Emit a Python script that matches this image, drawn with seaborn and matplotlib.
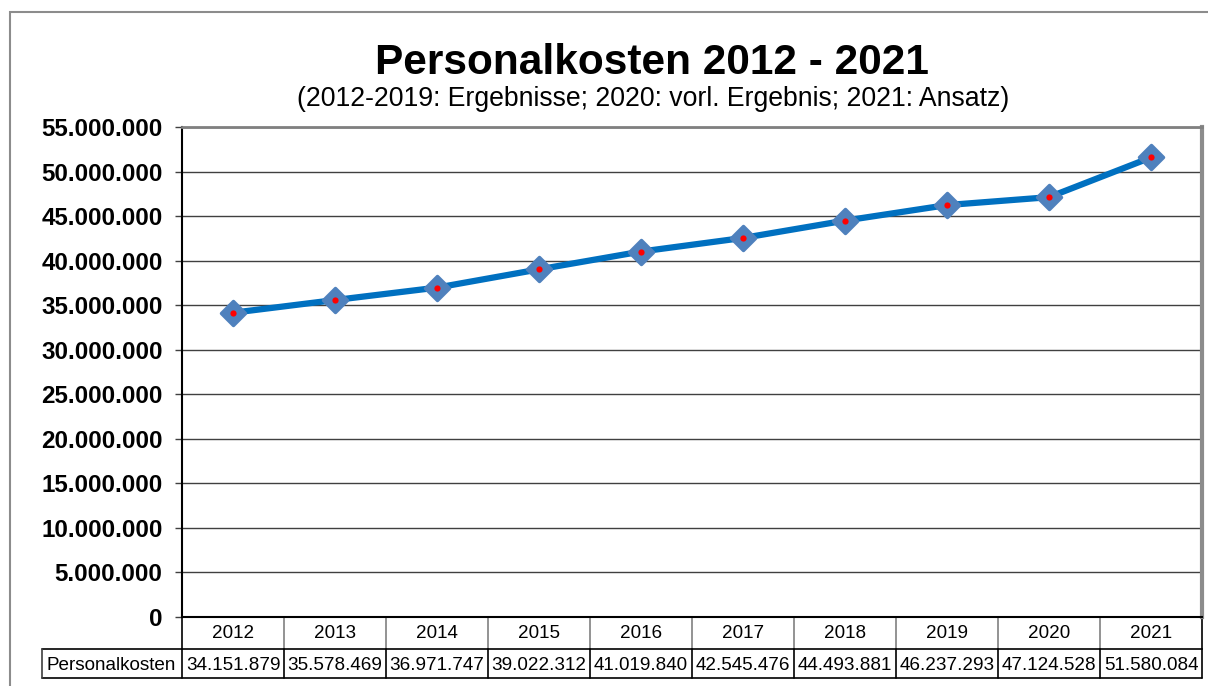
import matplotlib
matplotlib.use("Agg")
import matplotlib.pyplot as plt
import matplotlib.transforms as mtransforms
from matplotlib.markers import MarkerStyle
from matplotlib.patches import Rectangle
from matplotlib.ticker import FuncFormatter
import seaborn as sns
import pandas as pd

# Daten
years = ["2012", "2013", "2014", "2015", "2016", "2017", "2018", "2019", "2020", "2021"]
kosten = [34151879, 35578469, 36971747, 39022312, 41019840,
          42545476, 44493881, 46237293, 47124528, 51580084]
row_label = "Personalkosten"
title = "Personalkosten 2012 - 2021"
subtitle = "(2012-2019: Ergebnisse; 2020: vorl. Ergebnis; 2021: Ansatz)"
y_ticks = list(range(0, 55000001, 5000000))


def fmt_de(v, pos=None):
    return f"{int(round(v)):,}".replace(",", ".")


sns.set_theme(style="white")
plt.rcParams['font.family'] = ['Liberation Sans', 'DejaVu Sans']
plt.rcParams['text.color'] = 'black'
plt.rcParams['ytick.labelcolor'] = 'black'

df = pd.DataFrame({"pos": range(len(years)), "wert": kosten})

W, H = 1208, 686
fig = plt.figure(figsize=(W / 100, H / 100), dpi=100)
ax_l, ax_r, ax_t, ax_b = 182, 1202, 127, 617
ax = fig.add_axes([ax_l / W, 1 - ax_b / H, (ax_r - ax_l) / W, (ax_b - ax_t) / H])

# Linie mit Rauten
sns.lineplot(data=df, x="pos", y="wert", ax=ax, color="#0070C0", linewidth=4.5,
             marker=MarkerStyle("D", joinstyle="round"), markersize=12,
             markerfacecolor="#4F81BD", markeredgecolor="#4F81BD", markeredgewidth=2.5,
             zorder=3)
sns.scatterplot(data=df, x="pos", y="wert", ax=ax, color="red", s=20,
                marker="o", linewidth=0, zorder=5)

ax.set_xlim(-0.5, len(years) - 0.5)
ax.set_ylim(0, 55000000)
ax.set_yticks(y_ticks)
ax.yaxis.set_major_formatter(FuncFormatter(fmt_de))
ax.set_xticks([])
ax.set_xlabel("")
ax.set_ylabel("")
ax.autoscale(False)

ax.yaxis.grid(True, color="#404040", linewidth=1)
ax.set_axisbelow(True)
ax.tick_params(axis="y", direction="out", length=5, width=1, color="#404040",
               pad=9, labelsize=17.4, labelcolor="black", left=True)
for t in ax.get_yticklabels():
    t.set_fontweight("bold")

ax.spines["left"].set_color("black")
ax.spines["left"].set_linewidth(1.5)
ax.spines["bottom"].set_color("black")
ax.spines["bottom"].set_linewidth(1.5)
ax.spines["top"].set_color("#808080")
ax.spines["top"].set_linewidth(2)
ax.spines["right"].set_color("#8c8c8c")
ax.spines["right"].set_linewidth(3)

# Titel
fig.text(0.54, 0.908, title, ha="center", va="center", fontsize=30.5, fontweight="bold")
fig.text(0.541, 0.855, subtitle, ha="center", va="center", fontsize=19.2)

# Datentabelle unter dem Diagramm
ax_h = ax_b - ax_t
ax_w = ax_r - ax_l


def yax(ypix):
    return (ax_b - ypix) / ax_h


trans = mtransforms.blended_transform_factory(ax.transData, ax.transAxes)
y_row1_bot = yax(649)
y_row2_bot = yax(678)
x_head = (42 - ax_l) / ax_w

for i, (yr, val) in enumerate(zip(years, kosten)):
    ax.text(i, yax(633), yr, transform=trans, ha="center", va="center", fontsize=13.6)
    ax.text(i, yax(665), fmt_de(val), transform=trans, ha="center", va="center", fontsize=13.6)

for i in range(len(years) + 1):
    x = i - 0.5
    ax.plot([x, x], [0, y_row1_bot], transform=trans, color="#808080" if 0 < i < len(years) else "black",
            lw=1.2, clip_on=False)
    ax.plot([x, x], [y_row1_bot, y_row2_bot], transform=trans, color="black", lw=1.2, clip_on=False)

ax.plot([x_head, 1], [y_row1_bot, y_row1_bot], transform=ax.transAxes, color="black", lw=1.2, clip_on=False)
ax.plot([x_head, 1], [y_row2_bot, y_row2_bot], transform=ax.transAxes, color="black", lw=1.2, clip_on=False)
ax.plot([x_head, x_head], [y_row1_bot, y_row2_bot], transform=ax.transAxes, color="#404040", lw=1.2, clip_on=False)
ax.text((111 - ax_l) / ax_w, yax(665), row_label, transform=ax.transAxes,
        ha="center", va="center", fontsize=13.6)

# Rahmen des Diagrammbereichs (rechts und unten abgeschnitten)
fig.add_artist(Rectangle((10 / W, -0.5), 2, 1.5 - 12 / H, transform=fig.transFigure,
                         fill=False, edgecolor="#8c8c8c", lw=1.5))

fig.savefig("out.png", dpi=100)
